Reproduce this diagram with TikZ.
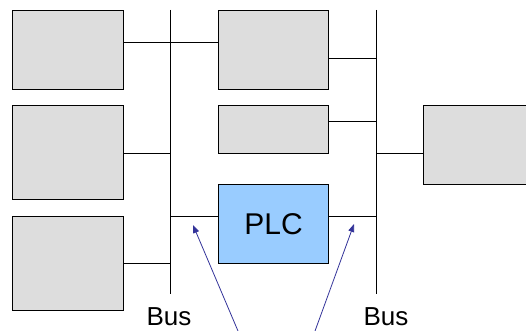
\documentclass[tikz,border=0pt]{standalone}
\usepackage{fontspec}
\setmainfont{Liberation Sans}
\usetikzlibrary{arrows.meta}
\definecolor{boxgray}{HTML}{DDDDDD}
\definecolor{plcblue}{HTML}{99CCFF}
\definecolor{arrblue}{HTML}{333399}
\begin{document}
\begin{tikzpicture}[x=1pt,y=-1pt,
  box/.style={draw=black, line width=1.1pt, fill=boxgray, anchor=north west, inner sep=0pt},
  plcbox/.style={box, fill=plcblue, font=\fontsize{30}{30}\selectfont},
  wire/.style={draw=black, line width=0.9pt},
  buslabel/.style={font=\fontsize{26}{26}\selectfont, inner sep=0pt},
  arr/.style={draw=arrblue, line width=0.8pt, -{Triangle[length=8pt,width=6pt]}}]
\useasboundingbox (0,0) rectangle (526,331);
\clip (0,0) rectangle (526,331);
% left devices
\node[box, minimum width=111pt, minimum height=79pt] (L1) at (12,10) {};
\node[box, minimum width=111pt, minimum height=94pt] (L2) at (12,105) {};
\node[box, minimum width=111pt, minimum height=94pt] (L3) at (12,216) {};
% middle devices
\node[box, minimum width=110pt, minimum height=79pt] (M1) at (218,10) {};
\node[box, minimum width=110pt, minimum height=48pt] (M2) at (218,105) {};
\node[plcbox, minimum width=110pt, minimum height=79pt] (PLC) at (218,184) {PLC};
% right device
\node[box, minimum width=110pt, minimum height=79pt] (R1) at (423,105) {};
% buses
\coordinate (B1t) at (170,10);
\coordinate (B1b) at (170,294);
\coordinate (B2t) at (376,10);
\coordinate (B2b) at (376,294);
\draw[wire] (B1t) -- (B1b);
\draw[wire] (B2t) -- (B2b);
% junctions
\coordinate (j1) at (170,42);
\coordinate (j2) at (170,153);
\coordinate (j3) at (170,263);
\coordinate (j4) at (170,216);
\coordinate (k1) at (376,58);
\coordinate (k2) at (376,121);
\coordinate (k3) at (376,153);
\coordinate (k4) at (376,216);
\draw[wire] (L1.east |- j1) -- (M1.west |- j1);
\draw[wire] (L2.east |- j2) -- (j2);
\draw[wire] (L3.east |- j3) -- (j3);
\draw[wire] (j4) -- (PLC.west |- j4);
\draw[wire] (M1.east |- k1) -- (k1);
\draw[wire] (M2.east |- k2) -- (k2);
\draw[wire] (k3) -- (R1.west |- k3);
\draw[wire] (PLC.east |- k4) -- (k4);
% labels
\node[buslabel] (bus1) at (169,317) {Bus};
\node[buslabel] (bus2) at (386,317) {Bus};
% arrows
\coordinate (a1s) at (238,331);
\coordinate (a1e) at (193,225);
\coordinate (a2s) at (315,331);
\coordinate (a2e) at (354,224);
\draw[arr] (a1s) -- (a1e);
\draw[arr] (a2s) -- (a2e);
\end{tikzpicture}
\end{document}
